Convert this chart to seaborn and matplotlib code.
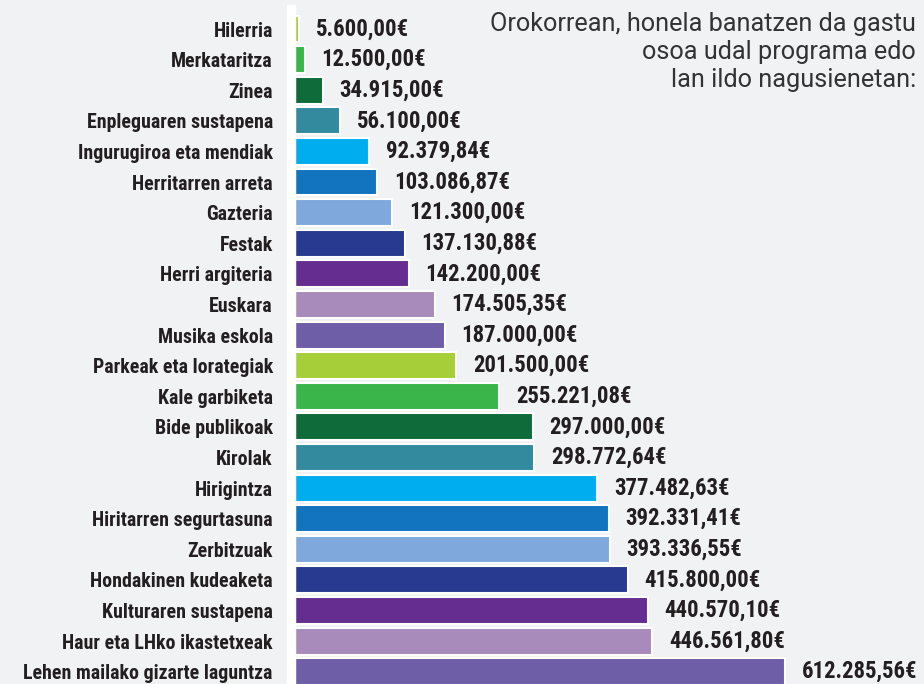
import matplotlib as mpl
from matplotlib import pyplot as plt
from matplotlib import font_manager
from matplotlib.patches import Rectangle
import seaborn as sns
import pandas as pd

categories = [
    "Hilerria", "Merkataritza", "Zinea", "Enpleguaren sustapena",
    "Ingurugiroa eta mendiak", "Herritarren arreta", "Gazteria", "Festak",
    "Herri argiteria", "Euskara", "Musika eskola", "Parkeak eta lorategiak",
    "Kale garbiketa", "Bide publikoak", "Kirolak", "Hirigintza",
    "Hiritarren segurtasuna", "Zerbitzuak", "Hondakinen kudeaketa",
    "Kulturaren sustapena", "Haur eta LHko ikastetxeak",
    "Lehen mailako gizarte laguntza",
]
amounts = [
    5600.00, 12500.00, 34915.00, 56100.00, 92379.84, 103086.87, 121300.00,
    137130.88, 142200.00, 174505.35, 187000.00, 201500.00, 255221.08,
    297000.00, 298772.64, 377482.63, 392331.41, 393336.55, 415800.00,
    440570.10, 446561.80, 612285.56,
]
base_colors = [
    "#a6ce39", "#39b54a", "#0f6b3a", "#338a9e", "#00aeef", "#1274bf",
    "#7fa9dc", "#283a8f", "#662d91", "#a88bba", "#6e5ea8",
]
colors = (base_colors * 2)[:len(categories)]

title = "Orokorrean, honela banatzen da gastu\nosoa udal programa edo\nlan ildo nagusienetan:"

BG = "#f1f2f4"
TEXT = "#231f20"

df = pd.DataFrame({"category": categories, "amount": amounts})

sns.set_style("white")
# pick the narrowest bold family that is installed
installed = {f.name for f in font_manager.fontManager.ttflist}
narrow = "Roboto"
for cand in ["Liberation Sans Narrow", "Roboto Condensed", "DejaVu Sans Condensed",
             "Open Sans Condensed", "Roboto"]:
    if cand in installed:
        narrow = cand
        break
mpl.rcParams["font.family"] = [narrow, "DejaVu Sans"]

W, H = 924, 684
fig = plt.figure(figsize=(W / 100, H / 100), dpi=100, facecolor=BG)

x0, x_end = 295, 785
top, bottom = 13.7, 687
ax = fig.add_axes([x0 / W, (H - bottom) / H, (W - x0) / W, (bottom - top) / H])
ax.set_facecolor(BG)

# white strip left of the bars
fig.patches.append(Rectangle((287 / W, 0), 8 / W, (H - 5) / H,
                             transform=fig.transFigure, color="white", zorder=0))

sns.barplot(
    data=df, x="amount", y="category", hue="category",
    palette=colors, saturation=1, legend=False, orient="h", ax=ax,
    width=0.88, edgecolor="white", linewidth=1.5,
)

ax.set_xlim(0, amounts[-1] * (W - x0) / (x_end - x0))
ax.set_ylim(len(categories) - 0.5, -0.5)
ax.set_xlabel("")
ax.set_ylabel("")
ax.set_xticks([])
for s in ax.spines.values():
    s.set_visible(False)
ax.tick_params(axis="y", length=0, pad=16)
for lbl in ax.get_yticklabels():
    lbl.set_fontsize(15)
    lbl.set_fontweight("bold")
    lbl.set_color(TEXT)


def euro(v):
    s = f"{v:,.2f}".replace(",", "X").replace(".", ",").replace("X", ".")
    return s + "€"


vals = []
for i, v in enumerate(amounts):
    t = ax.annotate(euro(v), xy=(v, i), xytext=(12, 0), textcoords="offset points",
                    va="center", ha="left", fontsize=15, fontweight="bold", color=TEXT)
    vals.append(t)

fig.text(916 / W, 1 - 12 / H, title, ha="right", va="top", fontsize=18.2,
         family=["Roboto", "DejaVu Sans"], fontweight="normal", color="#333333",
         linespacing=1.22)

# scale the bold texts so the longest ones match the widths seen in the reference
renderer = fig.canvas.get_renderer()
ylabels = ax.get_yticklabels()
w_lab = max(l.get_window_extent(renderer).width for l in ylabels)
s_lab = 248 / w_lab
for l in ylabels:
    l.set_fontsize(15 * s_lab)
w_val = vals[-1].get_window_extent(renderer).width
s_val = 116 / w_val
for t in vals:
    t.set_fontsize(15 * s_val)

fig.savefig("out.png", dpi=100, facecolor=BG)
